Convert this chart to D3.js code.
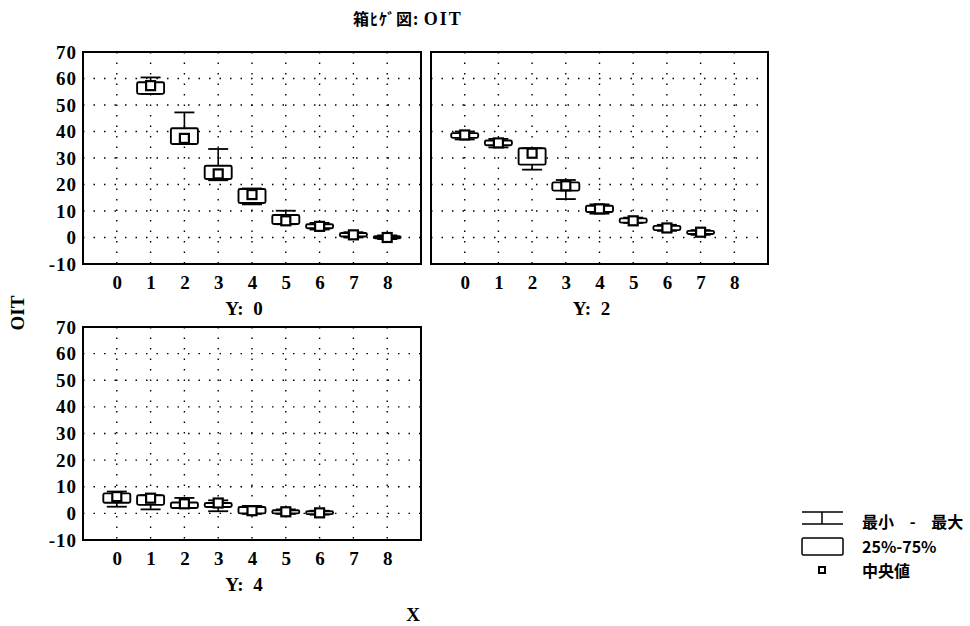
<!DOCTYPE html>
<html>
<head>
<meta charset="utf-8">
<script src="https://cdn.jsdelivr.net/npm/d3@7"></script>
<style>
  body { margin: 0; background: #fff; }
  .tick text, .num { font-family: "Liberation Serif", serif; font-weight: bold; }
  .jp { font-family: "Noto Sans CJK JP", sans-serif; font-weight: bold; }
</style>
</head>
<body>
<div class="D3"></div>
<script>
// chart values
var xCats = [0, 1, 2, 3, 4, 5, 6, 7, 8];
var yTicks = [-10, 0, 10, 20, 30, 40, 50, 60, 70];

// Y: 0
var p0x   = [1, 2, 3, 4, 5, 6, 7, 8];
var p0min = [54.2, 35.3, 21.6, 12.5, 5.0, 3.0, 0.0, -0.6];
var p0q1  = [54.2, 35.3, 22.1, 13.0, 5.1, 3.5, 0.4, -0.3];
var p0med = [57.3, 37.4, 24.0, 16.2, 6.3, 4.2, 1.0, 0.0];
var p0q3  = [58.6, 41.2, 27.1, 18.3, 8.5, 5.0, 1.7, 0.5];
var p0max = [60.4, 47.2, 33.4, 18.5, 10.1, 5.5, 2.0, 0.8];

// Y: 2
var p2x   = [0, 1, 2, 3, 4, 5, 6, 7];
var p2min = [37.0, 34.0, 25.6, 14.5, 9.0, 5.5, 2.5, 1.0];
var p2q1  = [37.6, 34.8, 27.5, 17.7, 9.6, 5.6, 2.8, 1.3];
var p2med = [38.7, 35.7, 31.8, 19.5, 10.8, 6.3, 3.6, 2.0];
var p2q3  = [39.4, 36.6, 33.7, 20.8, 12.0, 7.2, 4.4, 2.5];
var p2max = [40.0, 37.2, 33.7, 21.7, 12.5, 7.5, 4.8, 2.8];

// Y: 4
var p4x   = [0, 1, 2, 3, 4, 5, 6];
var p4min = [2.5, 1.5, 2.0, 0.8, -0.2, -0.2, -0.5];
var p4q1  = [4.0, 3.2, 2.0, 2.4, 0.0, 0.0, -0.3];
var p4med = [6.3, 5.7, 3.6, 3.9, 1.0, 0.6, 0.2];
var p4q3  = [7.5, 6.8, 4.1, 3.9, 2.4, 1.2, 0.8];
var p4max = [8.2, 6.8, 5.8, 4.9, 2.8, 1.5, 1.0];

var svgWidth = 970;
var svgHeight = 626;

var svg = d3.select(".D3").append("svg")
  .attr("width", svgWidth)
  .attr("height", svgHeight);

//panel frames in page pixels
var panels = [
  {left: 83, top: 52, right: 421, bottom: 264, label: "Y: 0",
   xs: p0x, mn: p0min, q1: p0q1, md: p0med, q3: p0q3, mx: p0max},
  {left: 431, top: 52, right: 768, bottom: 264, label: "Y: 2",
   xs: p2x, mn: p2min, q1: p2q1, md: p2med, q3: p2q3, mx: p2max},
  {left: 83, top: 327, right: 421, bottom: 540, label: "Y: 4",
   xs: p4x, mn: p4min, q1: p4q1, md: p4med, q3: p4q3, mx: p4max}
];

panels.forEach(function(p, pi) {
  var w = p.right - p.left;
  var h = p.bottom - p.top;
  var g = svg.append("g").attr("transform", `translate(${p.left}, ${p.top})`);

  var x = d3.scaleLinear().domain([-1, 9]).range([0, w]);
  var y = d3.scaleLinear().domain([-10, 70]).range([h, 0]);

  //dotted grid
  g.append("g").selectAll("line")
    .data(xCats)
    .enter().append("line")
    .attr("x1", d => x(d)).attr("x2", d => x(d))
    .attr("y1", 0).attr("y2", h)
    .attr("stroke", "#000").attr("stroke-width", 1.4)
    .attr("stroke-dasharray", "1.5,9");

  g.append("g").selectAll("line")
    .data(yTicks.slice(1, -1))
    .enter().append("line")
    .attr("x1", 0).attr("x2", w)
    .attr("y1", d => y(d)).attr("y2", d => y(d))
    .attr("stroke", "#000").attr("stroke-width", 1.4)
    .attr("stroke-dasharray", "1.5,9");

  //axes (labels only)
  var bottomAxis = d3.axisBottom(x).tickValues(xCats).tickSize(0).tickPadding(12);
  var xAxis = g.append("g")
    .attr("transform", `translate(0, ${h})`)
    .call(bottomAxis);
  xAxis.select(".domain").remove();
  xAxis.selectAll("text").style("font-size", "19px").attr("fill", "#000");

  if (pi !== 1) {
    var leftAxis = d3.axisLeft(y).tickValues(yTicks).tickSize(0).tickPadding(6)
      .tickFormat(d => d < 0 ? "-" + Math.abs(d) : d);
    var yAxis = g.append("g").call(leftAxis);
    yAxis.select(".domain").remove();
    yAxis.selectAll("text").style("font-size", "19px").attr("fill", "#000")
      .attr("letter-spacing", "1px");
  }

  //frame
  g.append("rect")
    .attr("x", 0).attr("y", 0)
    .attr("width", w).attr("height", h)
    .attr("fill", "none").attr("stroke", "#000").attr("stroke-width", 2);

  //panel label
  g.append("text")
    .attr("class", "num")
    .attr("x", w / 2 - 8).attr("y", h + 51)
    .attr("text-anchor", "middle")
    .style("font-size", "19px")
    .attr("xml:space", "preserve")
    .text(p.label.replace(" ", "  "));

  //boxes
  var boxW = 27, capW = 20, medS = 9;
  var boxes = g.selectAll(".box")
    .data(p.xs.map((v, i) => ({x: v, mn: p.mn[i], q1: p.q1[i], md: p.md[i], q3: p.q3[i], mx: p.mx[i]})))
    .enter().append("g")
    .classed("box", true);

  boxes.append("line")
    .attr("x1", d => x(d.x)).attr("x2", d => x(d.x))
    .attr("y1", d => y(d.mx)).attr("y2", d => y(d.mn))
    .attr("stroke", "#000").attr("stroke-width", 1.6);
  boxes.append("line")
    .attr("x1", d => x(d.x) - capW / 2).attr("x2", d => x(d.x) + capW / 2)
    .attr("y1", d => y(d.mx)).attr("y2", d => y(d.mx))
    .attr("stroke", "#000").attr("stroke-width", 1.8);
  boxes.append("line")
    .attr("x1", d => x(d.x) - capW / 2).attr("x2", d => x(d.x) + capW / 2)
    .attr("y1", d => y(d.mn)).attr("y2", d => y(d.mn))
    .attr("stroke", "#000").attr("stroke-width", 1.8);
  boxes.append("rect")
    .attr("x", d => x(d.x) - boxW / 2)
    .attr("y", d => y(d.q3))
    .attr("width", boxW)
    .attr("height", d => Math.max(2, y(d.q1) - y(d.q3)))
    .attr("rx", 1.5)
    .attr("fill", "#fff").attr("stroke", "#000").attr("stroke-width", 1.9);
  boxes.append("rect")
    .attr("x", d => x(d.x) - medS / 2)
    .attr("y", d => y(d.md) - medS / 2)
    .attr("width", medS).attr("height", medS)
    .attr("fill", "#fff").attr("stroke", "#000").attr("stroke-width", 2.2);
});

//title and axis titles
var title = svg.append("text")
  .attr("class", "jp")
  .attr("x", 353).attr("y", 25)
  .attr("xml:space", "preserve")
  .style("font-size", "16px");
title.append("tspan").attr("letter-spacing", "1px").text("箱ﾋｹﾞ図: ");
title.append("tspan")
  .style("font-family", "'Liberation Serif', serif")
  .style("font-size", "18px")
  .attr("letter-spacing", "2px")
  .text("OIT");

svg.append("text")
  .attr("class", "num")
  .attr("transform", "translate(24, 313) rotate(-90)")
  .attr("text-anchor", "middle")
  .style("font-size", "19px")
  .text("OIT");

svg.append("text")
  .attr("class", "num")
  .attr("x", 413).attr("y", 621)
  .attr("text-anchor", "middle")
  .style("font-size", "19px")
  .text("X");

//legend
var legend = svg.append("g").attr("transform", "translate(802, 0)");
legend.append("line").attr("x1", 0).attr("x2", 41).attr("y1", 512).attr("y2", 512)
  .attr("stroke", "#000").attr("stroke-width", 1.5);
legend.append("line").attr("x1", 20).attr("x2", 20).attr("y1", 512).attr("y2", 524)
  .attr("stroke", "#000").attr("stroke-width", 1.5);
legend.append("line").attr("x1", 0).attr("x2", 41).attr("y1", 524).attr("y2", 524)
  .attr("stroke", "#000").attr("stroke-width", 1.5);
legend.append("rect").attr("x", 0).attr("y", 538).attr("width", 41).attr("height", 17)
  .attr("rx", 1.5).attr("fill", "none").attr("stroke", "#000").attr("stroke-width", 1.5);
legend.append("rect").attr("x", 17).attr("y", 567).attr("width", 6).attr("height", 6)
  .attr("fill", "#fff").attr("stroke", "#000").attr("stroke-width", 2);

var legendLabels = ["最小 - 最大", "25%-75%", "中央値"];
var legendY = [528, 553, 577];
legend.selectAll(".lt")
  .data(legendLabels)
  .enter().append("text")
  .attr("class", "jp")
  .attr("x", 60).attr("y", (d, i) => legendY[i])
  .attr("xml:space", "preserve")
  .style("font-size", "16px")
  .attr("word-spacing", "12px")
  .text(d => d);
</script>
</body>
</html>
